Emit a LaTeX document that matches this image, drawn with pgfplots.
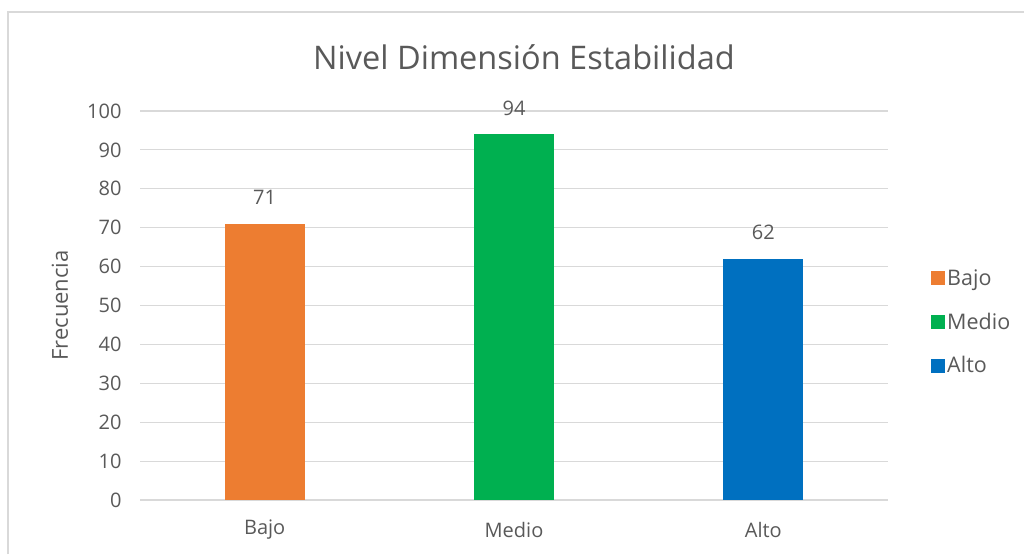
\documentclass[border=0pt]{standalone}
\usepackage{fontspec}
\setmainfont{Open Sans}
\usepackage{pgfplots}
\pgfplotsset{compat=1.18}
\definecolor{cOr}{HTML}{ED7D31}
\definecolor{cGr}{HTML}{00B050}
\definecolor{cBl}{HTML}{0070C0}
\definecolor{txt}{HTML}{595959}
\definecolor{grd}{HTML}{D9D9D9}
\begin{document}
\begin{tikzpicture}[x=1pt,y=1pt]
\useasboundingbox (0,0) rectangle (1024,554);
\draw[grd, line width=1.2pt] (8,0) -- (8,542) -- (1024,542);
\node[text=txt, font=\fontsize{32.5}{38}\selectfont] at (524,497) {Nivel Dimensión Estabilidad};
\begin{axis}[
  at={(140pt,54pt)}, anchor=south west,
  scale only axis, width=748pt, height=389pt,
  xmin=-0.5, xmax=2.5, ymin=0, ymax=100,
  ytick={0,10,...,100},
  xtick={0,1,2}, xticklabels={Bajo,Medio,Alto},
  axis line style={draw=none},
  ymajorgrids, grid style={grd, line width=1.2pt},
  major tick length=0pt,
  tick label style={text=txt, font=\fontsize{20}{24}\selectfont},
  /pgf/number format/assume math mode=true,
  yticklabel style={anchor=east, xshift=-15pt},
  xticklabel style={anchor=center, yshift=-30pt},
  ylabel={Frecuencia},
  ylabel style={at={(axis description cs:-0.107,0.5)}, anchor=center, text=txt, font=\fontsize{22}{26}\selectfont},
  ybar, bar width=80pt, bar shift=0pt,
  nodes near coords,
  every node near coord/.append style={anchor=center, yshift=26pt, text=txt, font=\fontsize{20}{24}\selectfont},
  legend style={at={(axis description cs:1,0.4576)}, anchor=west, xshift=43pt, draw=none, fill=none,
     font=\fontsize{21.5}{26}\selectfont, text=txt, row sep=22pt, inner sep=0pt},
  legend cell align=left,
  legend image code/.code={\fill[#1] (0pt,-7pt) rectangle (14pt,7pt);},
  clip=false,
]
\addplot[fill=cOr, draw=none] coordinates {(0,71)};
\addplot[fill=cGr, draw=none] coordinates {(1,94)};
\addplot[fill=cBl, draw=none] coordinates {(2,62)};
\legend{Bajo,Medio,Alto}
\end{axis}
\end{tikzpicture}
\end{document}
